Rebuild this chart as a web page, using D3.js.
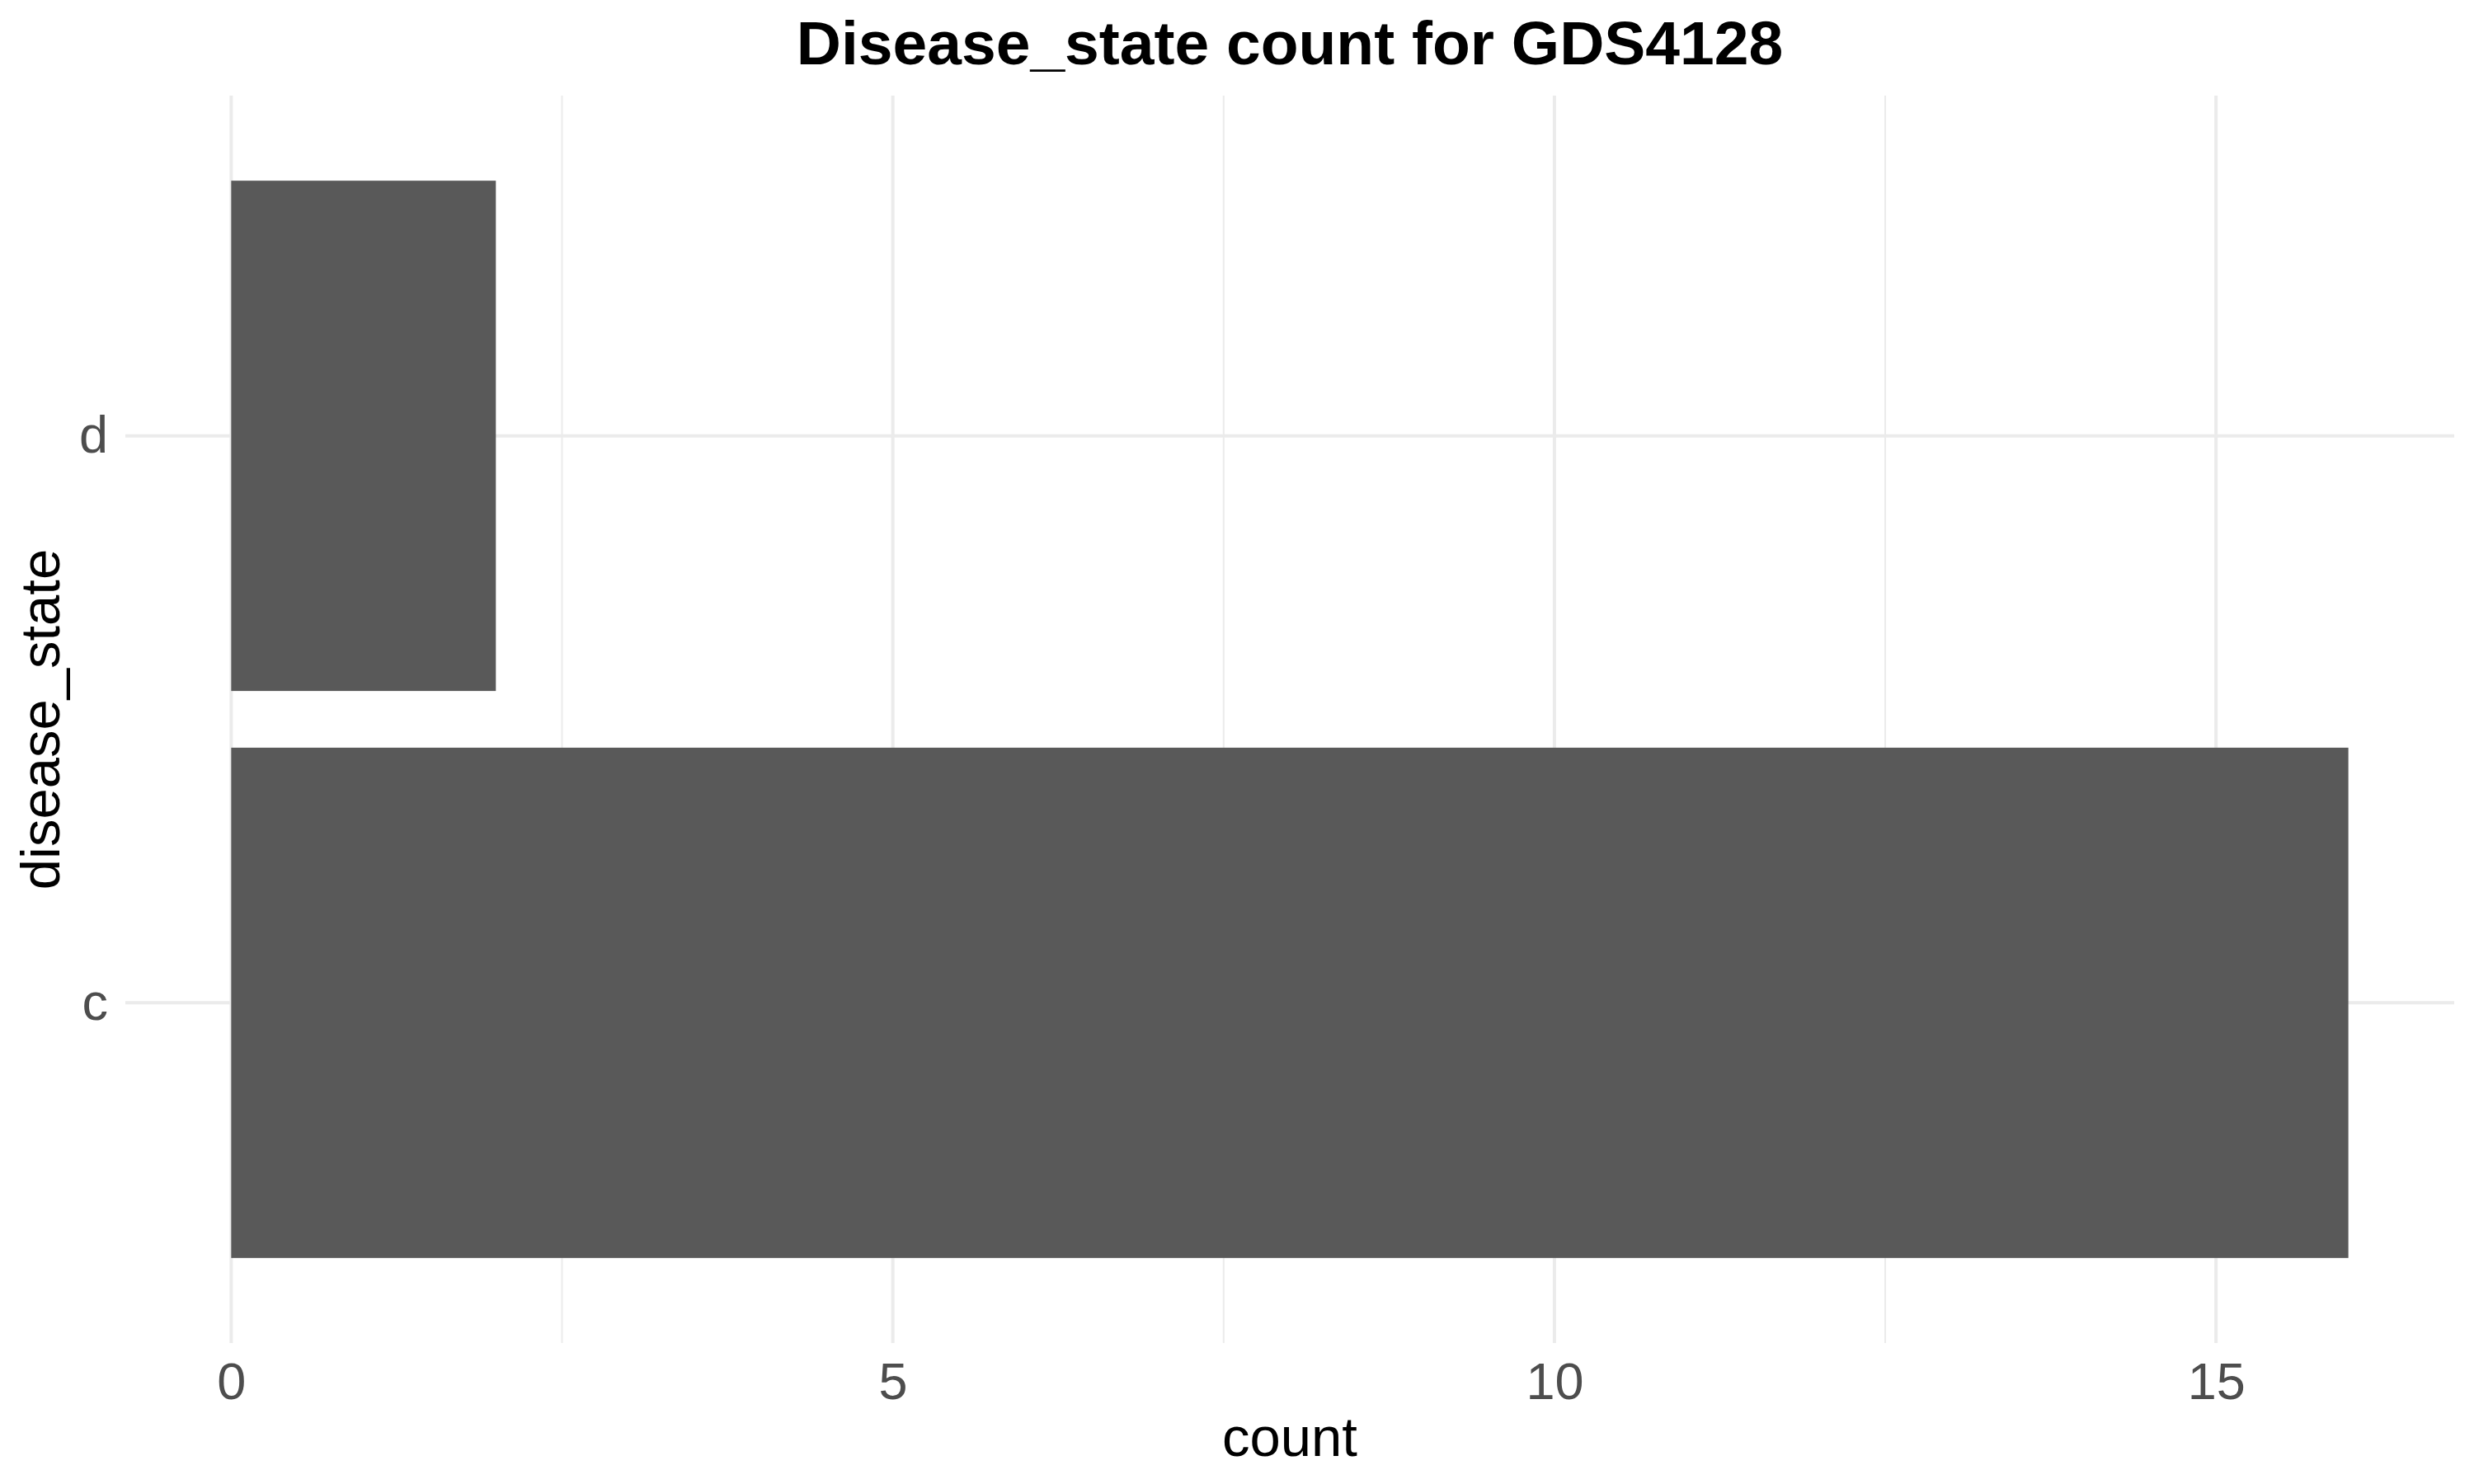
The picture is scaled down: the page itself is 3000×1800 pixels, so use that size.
<!DOCTYPE html>
<html>
<head>
<meta charset="utf-8">
<script src="https://cdn.jsdelivr.net/npm/d3@7"></script>
<style>
  body { margin: 0; background: #fff; }
  text { font-family: "Liberation Sans", Arial, sans-serif; }
</style>
</head>
<body>
<div id="chart"></div>
<script>
// data
var categories = ["d", "c"];
var counts = [2, 16];
var majorTicks = [0, 5, 10, 15];
var minorTicks = [2.5, 7.5, 12.5];

var width = 3000,
    height = 1800,
    margin = ({ top: 116, right: 24, bottom: 171, left: 152 });

var svg = d3.select("#chart")
    .append("svg")
    .attr("width", width)
    .attr("height", height);

svg.append("rect").attr("width", width).attr("height", height).attr("fill", "#fff");

// ggplot style: 5% expansion on the continuous axis
var xmax = d3.max(counts);
var x = d3.scaleLinear()
    .domain([-0.05 * xmax, xmax * 1.05])
    .range([margin.left, width - margin.right]);

var y = d3.scaleBand()
    .domain(categories)
    .range([margin.top, height - margin.bottom])
    .paddingInner(0.1)
    .paddingOuter(0.15);

// grid
var grid = svg.append("g");
grid.selectAll(".minor")
    .data(minorTicks)
    .join("line")
    .attr("x1", d => x(d)).attr("x2", d => x(d))
    .attr("y1", margin.top).attr("y2", height - margin.bottom)
    .attr("stroke", "#ebebeb")
    .attr("stroke-width", 2);
grid.selectAll(".major")
    .data(majorTicks)
    .join("line")
    .attr("x1", d => x(d)).attr("x2", d => x(d))
    .attr("y1", margin.top).attr("y2", height - margin.bottom)
    .attr("stroke", "#ebebeb")
    .attr("stroke-width", 4);
grid.selectAll(".cat")
    .data(categories)
    .join("line")
    .attr("x1", margin.left).attr("x2", width - margin.right)
    .attr("y1", d => y(d) + y.bandwidth() / 2).attr("y2", d => y(d) + y.bandwidth() / 2)
    .attr("stroke", "#ebebeb")
    .attr("stroke-width", 4);

// bars
svg.append("g")
    .attr("fill", "#595959")
    .selectAll("rect")
    .data(categories)
    .join("rect")
    .attr("x", x(0))
    .attr("y", d => y(d))
    .attr("width", (d, i) => x(counts[i]) - x(0))
    .attr("height", y.bandwidth());

// axes
var xAxis = svg.append("g")
    .attr("transform", "translate(0," + (height - margin.bottom) + ")")
    .call(d3.axisBottom(x).tickValues(majorTicks).tickSize(0).tickPadding(23));
xAxis.select(".domain").remove();
xAxis.selectAll("text")
    .attr("fill", "#4d4d4d")
    .style("font-size", "63px")
    .style("font-family", "Liberation Sans, Arial, sans-serif");

var yAxis = svg.append("g")
    .attr("transform", "translate(" + margin.left + ",0)")
    .call(d3.axisLeft(y).tickSize(0).tickPadding(21));
yAxis.select(".domain").remove();
yAxis.selectAll("text")
    .attr("fill", "#4d4d4d")
    .style("font-size", "63px")
    .style("font-family", "Liberation Sans, Arial, sans-serif");

// titles
svg.append("text")
    .attr("x", (margin.left + width - margin.right) / 2)
    .attr("y", 78)
    .attr("text-anchor", "middle")
    .style("font-size", "75px")
    .style("font-weight", "bold")
    .text("Disease_state count for GDS4128");

svg.append("text")
    .attr("x", (margin.left + width - margin.right) / 2)
    .attr("y", 1766)
    .attr("text-anchor", "middle")
    .style("font-size", "67px")
    .text("count");

svg.append("text")
    .attr("transform", "translate(72," + (margin.top + height - margin.bottom) / 2 + ") rotate(-90)")
    .attr("text-anchor", "middle")
    .style("font-size", "67px")
    .text("disease_state");
</script>
</body>
</html>
